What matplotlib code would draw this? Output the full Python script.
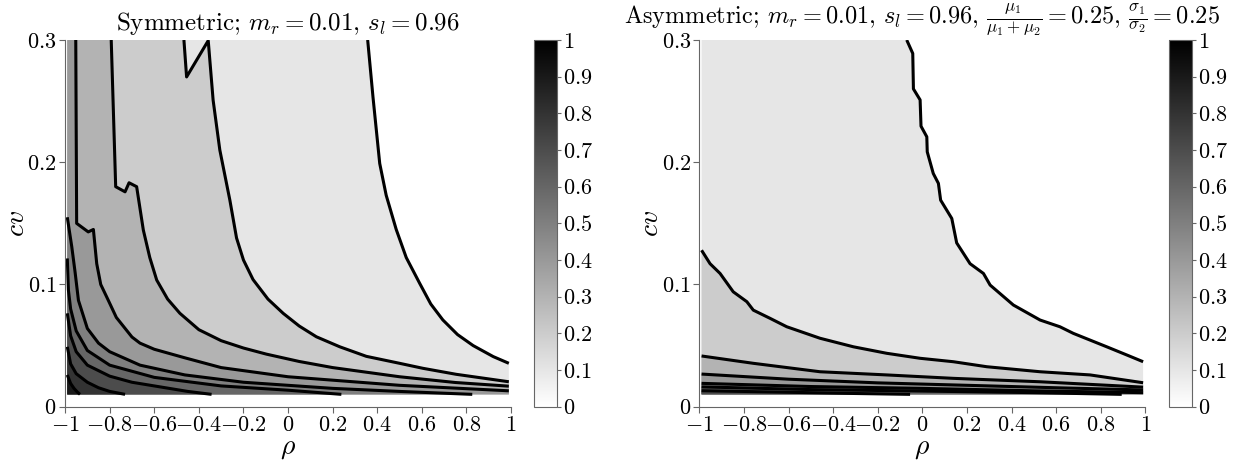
import numpy as np
import matplotlib.pyplot as plt
from matplotlib import cm
from matplotlib.colors import Normalize
from matplotlib.ticker import FuncFormatter

plt.rcParams['font.family'] = 'serif'
plt.rcParams['font.serif'] = ['cmr10']
plt.rcParams['mathtext.fontset'] = 'cm'
plt.rcParams['axes.unicode_minus'] = False

# === data extent (rho, cv grid) ===
rho_lo, rho_hi = -0.99, 0.99
cv_lo, cv_hi = 0.0101, 0.3
levels = [0.1, 0.2, 0.3, 0.4, 0.5, 0.6, 0.7, 0.8, 0.9]

# === Symmetric contour lines, (rho, cv) ===
sym_01 = [(0.357, 0.3), (0.381, 0.253), (0.411, 0.199), (0.44, 0.173), (0.485, 0.145),
          (0.53, 0.122), (0.59, 0.101), (0.64, 0.084), (0.694, 0.071), (0.76, 0.059),
          (0.83, 0.05), (0.88, 0.045), (0.92, 0.041), (0.99, 0.0355)]
sym_02 = [(-0.467, 0.3), (-0.455, 0.2698), (-0.358, 0.2995), (-0.336, 0.2507), (-0.306, 0.21),
          (-0.261, 0.169), (-0.231, 0.138), (-0.2, 0.12), (-0.157, 0.104), (-0.09, 0.088),
          (-0.022, 0.0764), (0.05, 0.066), (0.127, 0.0572), (0.232, 0.049), (0.351, 0.0412),
          (0.5, 0.0355), (0.605, 0.0314), (0.754, 0.0265), (0.99, 0.0204)]
sym_03 = [(-0.793, 0.3), (-0.773, 0.18), (-0.731, 0.1758), (-0.713, 0.1832), (-0.679, 0.18),
          (-0.649, 0.1445), (-0.62, 0.122), (-0.589, 0.1036), (-0.54, 0.088), (-0.485, 0.0764),
          (-0.4, 0.063), (-0.3, 0.054), (-0.2, 0.048), (-0.097, 0.043), (0.05, 0.037),
          (0.2, 0.032), (0.5, 0.0245), (0.75, 0.0198), (0.99, 0.0168)]
sym_04 = [(-0.952, 0.3), (-0.948, 0.15), (-0.896, 0.143), (-0.873, 0.145), (-0.858, 0.117),
          (-0.84, 0.1), (-0.806, 0.087), (-0.77, 0.073), (-0.7, 0.057), (-0.664, 0.052),
          (-0.6, 0.047), (-0.463, 0.04), (-0.3, 0.032), (0.0, 0.0245), (0.5, 0.0175), (0.99, 0.013)]
sym_05 = [(-0.99, 0.155), (-0.97, 0.131), (-0.955, 0.11), (-0.94, 0.087), (-0.9, 0.064),
          (-0.85, 0.052), (-0.8, 0.045), (-0.664, 0.034), (-0.463, 0.026), (-0.2, 0.02),
          (0.2, 0.015), (0.5, 0.0125), (0.826, 0.0101)]
sym_06 = [(-0.99, 0.1213), (-0.985, 0.0954), (-0.975, 0.08), (-0.95, 0.062), (-0.9, 0.046),
          (-0.8, 0.034), (-0.6, 0.024), (-0.3, 0.017), (0.0, 0.0135), (0.239, 0.0101)]
sym_07 = [(-0.99, 0.0764), (-0.975, 0.058), (-0.95, 0.045), (-0.9, 0.034), (-0.8, 0.025),
          (-0.7, 0.02), (-0.55, 0.0155), (-0.45, 0.0125), (-0.343, 0.0101)]
sym_08 = [(-0.99, 0.049), (-0.975, 0.035), (-0.95, 0.027), (-0.9, 0.02), (-0.85, 0.0155),
          (-0.8, 0.0125), (-0.731, 0.0101)]
sym_09 = [(-0.99, 0.026), (-0.975, 0.019), (-0.96, 0.015), (-0.945, 0.012), (-0.933, 0.0101)]

# === Asymmetric contour lines ===
asym_01 = [(-0.07, 0.3), (-0.043, 0.289), (-0.04, 0.26), (-0.01, 0.251), (-0.006, 0.2295),
           (0.02, 0.2208), (0.022, 0.2085), (0.049, 0.1908), (0.072, 0.1827), (0.082, 0.169),
           (0.132, 0.154), (0.154, 0.134), (0.214, 0.117), (0.274, 0.109), (0.304, 0.0995),
           (0.408, 0.0832), (0.528, 0.0709), (0.617, 0.0654), (0.677, 0.06), (0.827, 0.049),
           (0.917, 0.0423), (0.99, 0.0368)]
asym_02 = [(-0.99, 0.128), (-0.952, 0.117), (-0.907, 0.109), (-0.848, 0.094), (-0.787, 0.0859),
           (-0.758, 0.079), (-0.683, 0.0723), (-0.608, 0.0654), (-0.459, 0.056), (-0.309, 0.049),
           (-0.16, 0.0437), (-0.01, 0.0396), (0.139, 0.0368), (0.289, 0.0327), (0.528, 0.0286),
           (0.752, 0.026), (0.99, 0.0196)]
asym_03 = [(-0.99, 0.0415), (-0.758, 0.0355), (-0.459, 0.0286), (-0.16, 0.026), (0.139, 0.0232),
           (0.528, 0.0204), (0.99, 0.016)]
asym_04 = [(-0.99, 0.0267), (-0.6, 0.0225), (-0.2, 0.0195), (0.2, 0.0175), (0.6, 0.0155), (0.99, 0.0137)]
asym_05 = [(-0.99, 0.0191), (-0.5, 0.0165), (0.0, 0.015), (0.5, 0.013), (0.99, 0.0115)]
asym_06 = [(-0.99, 0.0162), (-0.5, 0.014), (0.0, 0.0128), (0.5, 0.0115), (0.894, 0.0101)]
asym_07 = [(-0.99, 0.0131), (-0.6, 0.0118), (-0.3, 0.0108), (-0.055, 0.0101)]

sym_lines = [sym_01, sym_02, sym_03, sym_04, sym_05, sym_06, sym_07, sym_08, sym_09]
asym_lines = [asym_01, asym_02, asym_03, asym_04, asym_05, asym_06, asym_07]

sym_title = r'Symmetric; $m_r=0.01$, $s_l=0.96$'
asym_title = (r'Asymmetric; $m_r=0.01$, $s_l=0.96$, $\frac{\mu_1}{\mu_1+\mu_2}=0.25$, '
              r'$\frac{\sigma_1}{\sigma_2}=0.25$')

cmap = plt.get_cmap('gray_r')
fmt = FuncFormatter(lambda v, p: '$%g$' % (round(v, 2) + 0.0))


def region(line):
    # area where value >= level: below/left of the line, closed along the frame
    pts = list(line)
    if pts[-1][0] >= rho_hi - 1e-9:
        pts.append((rho_hi, cv_lo))
    pts.append((rho_lo, cv_lo))
    if pts[0][1] >= cv_hi - 1e-9:
        pts.append((rho_lo, cv_hi))
    return np.array(pts)


def draw(ax, cax, lines, title, title_size, title_pad):
    ax.fill([rho_lo, rho_hi, rho_hi, rho_lo], [cv_lo, cv_lo, cv_hi, cv_hi], color=cmap(0.0), lw=0)
    for lev, line in zip(levels, lines):
        poly = region(line)
        ax.fill(poly[:, 0], poly[:, 1], color=cmap(lev), lw=0)
    for line in lines:
        arr = np.array(line)
        ax.plot(arr[:, 0], arr[:, 1], color='black', lw=2.2, solid_capstyle='butt')
    ax.set_xlim(-1, 1)
    ax.set_ylim(0, 0.3)
    ax.set_xticks(np.round(np.arange(-1, 1.01, 0.2), 1))
    ax.set_yticks([0, 0.1, 0.2, 0.3])
    ax.xaxis.set_major_formatter(fmt)
    ax.yaxis.set_major_formatter(fmt)
    for s in ['top', 'right']:
        ax.spines[s].set_visible(False)
    for s in ['left', 'bottom']:
        ax.spines[s].set_color('0.4')
    ax.tick_params(direction='out', length=4, color='0.4', labelsize=16, pad=2)
    ax.set_xlabel(r'$\rho$', fontsize=20, labelpad=0)
    ax.set_ylabel(r'$cv$', fontsize=20, labelpad=-2)
    ax.set_title(title, fontsize=title_size, pad=title_pad)

    cb = plt.colorbar(cm.ScalarMappable(norm=Normalize(0, 1), cmap=cmap), cax=cax,
                      ticks=np.arange(0, 1.01, 0.1), format=fmt)
    cb.outline.set_edgecolor('0.4')
    cb.ax.tick_params(length=3, color='0.4', labelsize=16, pad=1)


fig = plt.figure(figsize=(12.56, 4.63), dpi=100)
ax1 = fig.add_axes([0.0518, 0.1216, 0.3551, 0.792])
cax1 = fig.add_axes([0.4252, 0.1216, 0.0186, 0.792])
ax2 = fig.add_axes([0.5568, 0.1216, 0.3551, 0.792])
cax2 = fig.add_axes([0.9305, 0.1216, 0.0186, 0.792])

draw(ax1, cax1, sym_lines, sym_title, 18, 7)
draw(ax2, cax2, asym_lines, asym_title, 17.5, 12)

plt.savefig('out.png', dpi=100)
